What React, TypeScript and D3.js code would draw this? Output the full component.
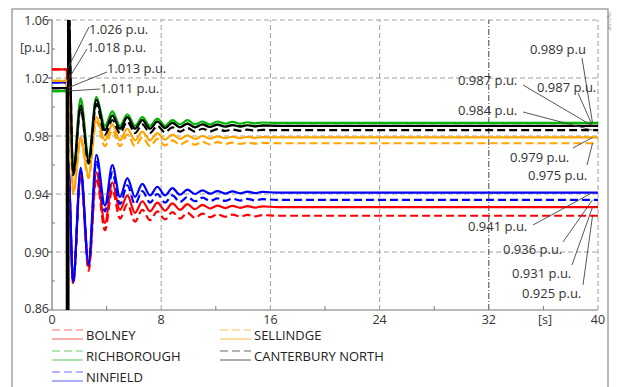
import React from 'react';
import * as d3 from 'd3';

// time axis [s] – extrema of the swing after the fault
const time = [0, 1.1, 1.11, 1.17, 1.18, 1.55, 2.1, 2.68, 3.25, 3.88, 4.42, 4.98, 5.52, 6.08, 6.62, 7.18, 7.72, 8.28, 8.82, 9.38, 9.92, 10.48, 11.02, 11.58, 12.12, 12.68, 13.22, 13.78, 14.32, 14.88, 15.42, 16.5, 18, 20, 24, 28, 32, 36, 40];

const stations = ['BOLNEY', 'RICHBOROUGH', 'NINFIELD', 'SELLINDGE', 'CANTERBURY NORTH'];

// solid = case A, dashed = case B  [p.u.]
const bolneyA = [1.026, 1.026, 0.3, 0.3, 0.960, 0.879, 0.956, 0.890, 0.955, 0.920, 0.948, 0.929, 0.939, 0.927, 0.935, 0.928, 0.934, 0.9285, 0.9335, 0.929, 0.933, 0.9295, 0.9325, 0.930, 0.932, 0.9303, 0.9318, 0.9305, 0.9316, 0.9306, 0.9314, 0.931, 0.931, 0.931, 0.931, 0.931, 0.931, 0.931, 0.931];
const bolneyB = [1.026, 1.026, 0.3, 0.3, 0.960, 0.878, 0.954, 0.887, 0.951, 0.915, 0.943, 0.923, 0.933, 0.921, 0.929, 0.922, 0.928, 0.9225, 0.9275, 0.923, 0.927, 0.9235, 0.9265, 0.924, 0.926, 0.9243, 0.9258, 0.9245, 0.9256, 0.9246, 0.9254, 0.925, 0.925, 0.925, 0.925, 0.925, 0.925, 0.925, 0.925];
const richboroughA = [1.011, 1.011, 0.3, 0.3, 1.045, 0.956, 1.006, 0.966, 1.007, 0.987, 0.997, 0.987, 0.995, 0.987, 0.993, 0.987, 0.992, 0.987, 0.991, 0.988, 0.991, 0.988, 0.990, 0.988, 0.990, 0.9885, 0.9898, 0.9885, 0.9895, 0.9887, 0.9893, 0.989, 0.989, 0.989, 0.989, 0.989, 0.989, 0.989, 0.989];
const richboroughB = [1.011, 1.011, 0.3, 0.3, 1.045, 0.955, 1.004, 0.964, 1.005, 0.985, 0.995, 0.985, 0.993, 0.985, 0.991, 0.985, 0.990, 0.9855, 0.989, 0.986, 0.9885, 0.986, 0.988, 0.9862, 0.9878, 0.9864, 0.9876, 0.9865, 0.9875, 0.9866, 0.9873, 0.987, 0.987, 0.987, 0.987, 0.987, 0.987, 0.987, 0.987];
const ninfieldA = [1.017, 1.017, 0.3, 0.3, 0.962, 0.880, 0.958, 0.893, 0.967, 0.932, 0.960, 0.938, 0.951, 0.938, 0.947, 0.939, 0.945, 0.939, 0.944, 0.9395, 0.943, 0.940, 0.9425, 0.9402, 0.942, 0.9403, 0.9418, 0.9405, 0.9416, 0.9406, 0.9414, 0.941, 0.941, 0.941, 0.941, 0.941, 0.941, 0.941, 0.941];
const ninfieldB = [1.017, 1.017, 0.3, 0.3, 0.962, 0.879, 0.956, 0.891, 0.963, 0.928, 0.955, 0.933, 0.946, 0.933, 0.942, 0.934, 0.940, 0.934, 0.939, 0.9345, 0.938, 0.935, 0.9375, 0.9352, 0.937, 0.9353, 0.9368, 0.9355, 0.9366, 0.9356, 0.9364, 0.936, 0.936, 0.936, 0.936, 0.936, 0.936, 0.936, 0.936];
const sellindgeA = [1.018, 1.018, 0.3, 0.3, 1.040, 0.941, 0.979, 0.953, 0.993, 0.977, 0.988, 0.977, 0.985, 0.977, 0.983, 0.977, 0.982, 0.9775, 0.981, 0.978, 0.9805, 0.978, 0.980, 0.9782, 0.9798, 0.9785, 0.9795, 0.9786, 0.9794, 0.9787, 0.9792, 0.979, 0.979, 0.979, 0.979, 0.979, 0.979, 0.979, 0.979];
const sellindgeB = [1.018, 1.018, 0.3, 0.3, 1.040, 0.940, 0.977, 0.951, 0.990, 0.973, 0.984, 0.973, 0.981, 0.973, 0.979, 0.973, 0.978, 0.9735, 0.977, 0.974, 0.9765, 0.974, 0.976, 0.9742, 0.9758, 0.9745, 0.9755, 0.9746, 0.9754, 0.9747, 0.9752, 0.975, 0.975, 0.975, 0.975, 0.975, 0.975, 0.975, 0.975];
const canterburyA = [1.013, 1.013, 0.3, 0.3, 1.080, 0.954, 1.001, 0.963, 1.005, 0.984, 0.994, 0.985, 0.993, 0.985, 0.991, 0.985, 0.990, 0.9855, 0.989, 0.986, 0.9885, 0.986, 0.988, 0.9862, 0.9878, 0.9865, 0.9875, 0.9866, 0.9874, 0.9867, 0.9872, 0.987, 0.987, 0.987, 0.987, 0.987, 0.987, 0.987, 0.987];
const canterburyB = [1.013, 1.013, 0.3, 0.3, 1.080, 0.953, 0.999, 0.961, 1.002, 0.981, 0.991, 0.982, 0.990, 0.982, 0.988, 0.982, 0.987, 0.9825, 0.986, 0.983, 0.9855, 0.983, 0.985, 0.9832, 0.9848, 0.9835, 0.9845, 0.9836, 0.9844, 0.9837, 0.9842, 0.984, 0.984, 0.984, 0.984, 0.984, 0.984, 0.984, 0.984];

const xTicks = [0, 8, 16, 24, 32, 40];
const xMinor = [4, 12, 20, 28, 36];
const yTicks = [0.86, 0.90, 0.94, 0.98, 1.02, 1.06];
const yMinor = [0.88, 0.92, 0.96, 1.00, 1.04];

// annotated steady values
const preFaultLabels = ['1.026 p.u.', '1.018 p.u.', '1.013 p.u.', '1.011 p.u.'];
const preFaultValues = [1.026, 1.018, 1.013, 1.011];
const finalLabels = ['0.989 p.u', '0.987 p.u.', '0.987 p.u.', '0.984 p.u.', '0.979 p.u.', '0.975 p.u.', '0.941 p.u.', '0.936 p.u.', '0.931 p.u.', '0.925 p.u.'];
const finalValues = [0.989, 0.987, 0.987, 0.984, 0.979, 0.975, 0.941, 0.936, 0.931, 0.925];

const W = 617;
const H = 387;
const margin = { left: 52, right: 19, top: 20, bottom: 77 };
const font = '"Open Sans", sans-serif';

const lineColors = ['#ff0000', '#00b400', '#0000ff', '#ffa500', '#000000'];
const legendColors = ['#ff9a9a', '#96e096', '#9a9aff', '#ffd58a', '#9a9a9a'];

// label placement (pixels): [textX, textY, leaderX, leaderY]
const preFaultLayout = [
  [89, 29, 89, 27],
  [87, 47, 87, 49],
  [107, 68, 107, 72],
  [100, 88, 100, 89],
];
const finalLayout = [
  [530, 49, 582, 58],
  [458, 80, 523, 85],
  [537, 87, 578, 93],
  [458, 110, 523, 112],
  [510, 157, 573, 148],
  [528, 175, 587, 165],
  [468, 226, 533, 225],
  [503, 249, 563, 242],
  [512, 273, 572, 265],
  [522, 293, 583, 285],
];

export default function App() {
  const x = d3.scaleLinear().domain([0, 40]).range([margin.left, W - margin.right]);
  const y = d3.scaleLinear().domain([0.86, 1.06]).range([H - margin.bottom, margin.top]);

  const series = [
    [bolneyA, bolneyB],
    [richboroughA, richboroughB],
    [ninfieldA, ninfieldB],
    [sellindgeA, sellindgeB],
    [canterburyA, canterburyB],
  ];

  const line = d3
    .line<number>()
    .x((_, i) => x(time[i]))
    .y((d) => y(d))
    .curve(d3.curveMonotoneX);

  const [x0, x1] = x.range();
  const [y0, y1] = y.range();

  const legendCols = [52, 220];
  const legendRows = [335, 356, 377];

  return (
    <svg
      width={W}
      height={H}
      style={{ position: 'absolute', left: 0, top: 0, background: '#fff' }}
      fontFamily={font}
    >
      <defs>
        <clipPath id="plot">
          <rect x={x0} y={y1} width={x1 - x0} height={y0 - y1} />
        </clipPath>
      </defs>

      {/* outer frame */}
      <rect x={12} y={9} width={596} height={400} fill="none" stroke="#8c8c8c" strokeWidth={1.2} />
      <text transform="translate(608,12) rotate(90)" fontSize={4} fill="#888">
        DIgSILENT
      </text>

      {/* grid */}
      {yTicks.slice(1).map((v) => (
        <line key={'gy' + v} x1={x0 - 4} x2={x1} y1={y(v)} y2={y(v)} stroke="#a0a0a0" strokeDasharray="5,3" />
      ))}
      {xTicks.slice(1).map((t) => (
        <line
          key={'gx' + t}
          x1={x(t)}
          x2={x(t)}
          y1={y0}
          y2={y1}
          stroke={t === 32 ? '#444' : '#a0a0a0'}
          strokeDasharray={t === 32 ? '6,2,1,2' : '5,3'}
        />
      ))}

      {/* axes */}
      <line x1={x0} x2={x0} y1={y0} y2={y1} stroke="#777" strokeWidth={1.2} />
      <line x1={x0} x2={x1} y1={y0} y2={y0} stroke="#777" strokeWidth={1.2} />
      {yTicks.map((v) => (
        <line key={'ty' + v} x1={x0 - 4} x2={x0} y1={y(v)} y2={y(v)} stroke="#777" />
      ))}
      {yMinor.map((v) => (
        <line key={'my' + v} x1={x0} x2={x0 + 3} y1={y(v)} y2={y(v)} stroke="#777" />
      ))}
      {xMinor.map((t) => (
        <line key={'mx' + t} x1={x(t)} x2={x(t)} y1={y0} y2={y0 - 4} stroke="#777" />
      ))}

      {/* tick labels */}
      {yTicks.map((v) => (
        <text
          key={'ly' + v}
          x={x0 - 3}
          y={y(v) - (v === 0.86 ? 2 : 0)}
          textAnchor="end"
          dominantBaseline="central"
          fontSize={12.5}
          fill="#333"
        >
          {d3.format('.2f')(v)}
        </text>
      ))}
      <text x={x0 - 2} y={47} textAnchor="end" dominantBaseline="central" fontSize={12.5} fill="#333">
        [p.u.]
      </text>
      {xTicks.map((t) => (
        <text key={'lx' + t} x={x(t)} y={y0 + 9} textAnchor="middle" dominantBaseline="central" fontSize={12.5} fill="#333">
          {t}
        </text>
      ))}
      <text x={545} y={y0 + 9} textAnchor="middle" dominantBaseline="central" fontSize={12.5} fill="#333">
        [s]
      </text>

      {/* curves */}
      <g clipPath="url(#plot)" fill="none">
        {series.map(([a, b], i) => (
          <g key={stations[i]} stroke={lineColors[i]} strokeWidth={2.2} strokeLinejoin="round">
            <path d={line(b) || ''} strokeDasharray="8,4" />
            <path d={line(a) || ''} />
          </g>
        ))}
      </g>

      {/* annotations */}
      <g fontSize={13} fill="#333">
        {preFaultLabels.map((s, i) => {
          const [tx, ty, lx, ly] = preFaultLayout[i];
          return (
            <g key={'pf' + i}>
              <line x1={lx} y1={ly} x2={x(1.12)} y2={y(preFaultValues[i])} stroke="#444" strokeWidth={0.9} />
              <text x={tx} y={ty} dominantBaseline="central">
                {s}
              </text>
            </g>
          );
        })}
        {finalLabels.map((s, i) => {
          const [tx, ty, lx, ly] = finalLayout[i];
          return (
            <g key={'fv' + i}>
              <line x1={lx} y1={ly} x2={x(39.6)} y2={y(finalValues[i])} stroke="#444" strokeWidth={0.9} />
              <text x={tx} y={ty} dominantBaseline="central">
                {s}
              </text>
            </g>
          );
        })}
      </g>

      {/* legend */}
      {stations.map((s, i) => {
        const cx = legendCols[i < 3 ? 0 : 1];
        const cy = legendRows[i < 3 ? i : i - 3];
        return (
          <g key={'lg' + s}>
            <line x1={cx} x2={cx + 31} y1={cy - 5} y2={cy - 5} stroke={legendColors[i]} strokeWidth={1.6} strokeDasharray="8,4" />
            <line x1={cx} x2={cx + 31} y1={cy + 4} y2={cy + 4} stroke={legendColors[i]} strokeWidth={1.6} />
            <text x={cx + 34} y={cy} dominantBaseline="central" fontSize={13} fill="#222">
              {s}
            </text>
          </g>
        );
      })}
    </svg>
  );
}
